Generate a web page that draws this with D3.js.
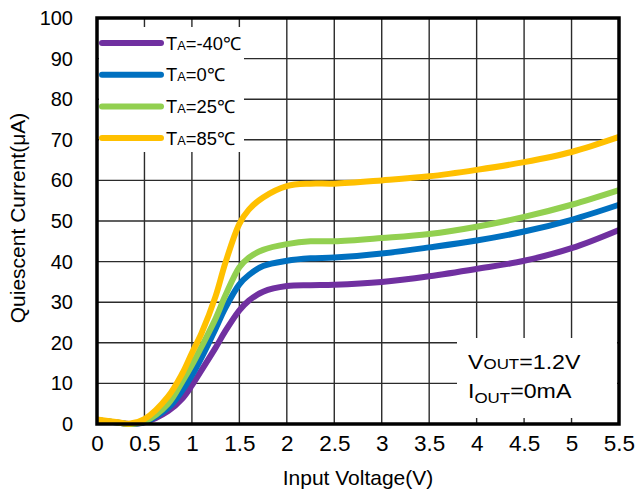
<!DOCTYPE html>
<html>
<head>
<meta charset="utf-8">
<script src="https://cdn.jsdelivr.net/npm/d3@7"></script>
<style>
  html, body { margin: 0; padding: 0; background: #fff; }
  svg { display: block; font-family: "Liberation Sans", Arial, sans-serif; }
</style>
</head>
<body>
<svg id="chart" width="637" height="496"></svg>
<script>
// Input voltage sample points (V)
const vin = [0, 0.2, 0.35, 0.5, 0.75, 0.9, 1.0, 1.1, 1.25, 1.35, 1.5, 1.6, 1.75, 2.0, 2.25, 2.5, 3.0, 3.5, 4.0, 4.5, 5.0, 5.5];

// Quiescent current (µA) per ambient temperature
const iqM40 = [0.9, 0.4, 0.0, 0.4, 3.2, 6.3, 9.5, 13.2, 18.8, 22.8, 28.0, 30.4, 32.6, 34.0, 34.2, 34.3, 35.0, 36.4, 38.2, 40.2, 43.3, 47.8];
const iq0   = [0.9, 0.4, 0.0, 0.5, 4.0, 8.3, 12.0, 16.3, 23.5, 28.5, 34.4, 36.7, 38.9, 40.2, 40.8, 41.0, 42.0, 43.5, 45.2, 47.4, 50.3, 54.0];
const iq25  = [0.9, 0.4, 0.0, 0.6, 5.0, 10.5, 14.5, 19.0, 26.0, 31.5, 38.6, 41.0, 42.9, 44.3, 45.0, 45.0, 45.8, 46.8, 48.6, 51.0, 54.0, 57.6];
const iq85  = [1.1, 0.5, 0.1, 1.2, 6.8, 12.5, 17.5, 22.3, 31.5, 39.5, 49.3, 52.8, 55.8, 58.6, 59.2, 59.2, 60.0, 61.0, 62.6, 64.5, 67.0, 70.7];

const seriesNames = ["-40℃", "0℃", "25℃", "85℃"];
const seriesColors = ["#7030A0", "#0070C0", "#92D050", "#FFC000"];
const seriesValues = [iqM40, iq0, iq25, iq85];

const xTicks = [0, 0.5, 1, 1.5, 2, 2.5, 3, 3.5, 4, 4.5, 5, 5.5];
const xTickLabels = ["0", "0.5", "1", "1.5", "2", "2.5", "3", "3.5", "4", "4.5", "5", "5.5"];
const yTicks = [0, 10, 20, 30, 40, 50, 60, 70, 80, 90, 100];

const svg = d3.select("#chart");
const plotL = 97, plotR = 619, plotT = 18, plotB = 424;
const W = plotR - plotL, H = plotB - plotT;

const x = d3.scaleLinear().domain([0, 5.5]).range([plotL, plotR]);
const y = d3.scaleLinear().domain([0, 100]).range([plotB, plotT]);

// Grid
const grid = svg.append("g").attr("stroke", "#2b2b2b").attr("stroke-width", 1.4);
grid.selectAll("line.v").data(xTicks.slice(1, -1)).join("line")
  .attr("class", "v")
  .attr("x1", d => x(d)).attr("x2", d => x(d))
  .attr("y1", plotT).attr("y2", plotB);
grid.selectAll("line.h").data(yTicks.slice(1, -1)).join("line")
  .attr("class", "h")
  .attr("x1", plotL).attr("x2", plotR)
  .attr("y1", d => y(d)).attr("y2", d => y(d));

// Curves
const line = d3.line()
  .x(d => x(d[0])).y(d => y(d[1]))
  .curve(d3.curveCatmullRom.alpha(0.5));
seriesValues.forEach((vals, i) => {
  svg.append("path")
    .datum(vin.map((v, k) => [v, vals[k]]))
    .attr("fill", "none")
    .attr("stroke", seriesColors[i])
    .attr("stroke-width", 6)
    .attr("stroke-linejoin", "round")
    .attr("d", line);
});

// Text placed at (tx, ty) and widened horizontally by sx
function wideText(tx, ty, sx, size) {
  return svg.append("g").attr("transform", `translate(${tx},${ty}) scale(${sx},1)`)
    .append("text").attr("font-size", size).attr("fill", "#000");
}

// Legend
svg.append("rect").attr("x", 99).attr("y", 27).attr("width", 145).attr("height", 125).attr("fill", "#fff");
seriesNames.forEach((name, i) => {
  const ly = 43 + i * 31.7;
  svg.append("line")
    .attr("x1", 102).attr("x2", 161).attr("y1", ly).attr("y2", ly)
    .attr("stroke", seriesColors[i]).attr("stroke-width", 6).attr("stroke-linecap", "round");
  const t = wideText(166, ly + 6.5, 1.02, 18);
  t.append("tspan").text("T");
  t.append("tspan").attr("font-size", 12.5).text("A");
  t.append("tspan").text("=" + name);
});

// Conditions box
svg.append("rect").attr("x", 457).attr("y", 338).attr("width", 160).attr("height", 80).attr("fill", "#fff");
const c1 = wideText(468, 369, 1.13, 20.5);
c1.append("tspan").text("V");
c1.append("tspan").attr("font-size", 15).text("OUT");
c1.append("tspan").text("=1.2V");
const c2 = wideText(468, 398, 1.13, 20.5);
c2.append("tspan").text("I");
c2.append("tspan").attr("font-size", 15).attr("dy", 5).text("OUT");
c2.append("tspan").attr("dy", -5).text("=0mA");

// Frame
svg.append("rect").attr("x", plotL).attr("y", plotT).attr("width", W).attr("height", H)
  .attr("fill", "none").attr("stroke", "#000").attr("stroke-width", 3.5);

// Axes labels
const xAxis = d3.axisBottom(x).tickValues(xTicks)
  .tickFormat((d, i) => xTickLabels[i]).tickSize(0).tickPadding(11);
const gx = svg.append("g").attr("transform", `translate(0,${plotB})`).call(xAxis);
gx.select(".domain").remove();
gx.selectAll("text").attr("font-size", 22.5).attr("fill", "#000")
  .attr("font-family", "'Liberation Sans', Arial, sans-serif");

const yAxis = d3.axisLeft(y).tickValues(yTicks).tickSize(0).tickPadding(24);
const gy = svg.append("g").attr("transform", `translate(${plotL},0)`).call(yAxis);
gy.select(".domain").remove();
gy.selectAll("text").attr("font-size", 20).attr("fill", "#000")
  .attr("font-family", "'Liberation Sans', Arial, sans-serif");

svg.append("text").attr("x", 358).attr("y", 485).attr("text-anchor", "middle")
  .attr("font-size", 21).text("Input Voltage(V)");
svg.append("text").attr("transform", "translate(25,218) rotate(-90)")
  .attr("text-anchor", "middle").attr("font-size", 21).text("Quiescent Current(μA)");
</script>
</body>
</html>
